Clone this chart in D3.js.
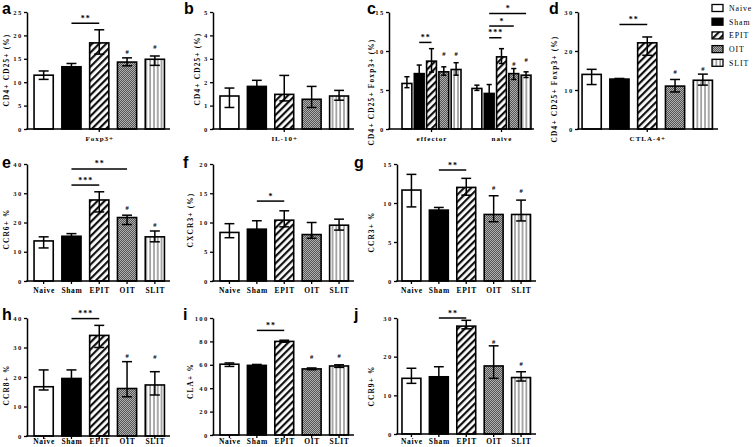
<!DOCTYPE html>
<html><head><meta charset="utf-8">
<script src="https://cdn.jsdelivr.net/npm/d3@7"></script>
<style>body{margin:0;background:#fff}svg{display:block}</style>
</head><body><svg id="c" width="754" height="447"></svg>
<script>
const groups = ["Naive","Sham","EPIT","OIT","SLIT"];

// a: CD4+CD25+ Foxp3+
const aMean = [11.5, 13.3, 18.4, 14.3, 14.9];
const aLo   = [10.6, 12.7, 16.0, 13.5, 13.6];
const aHi   = [12.4, 14.0, 21.2, 15.2, 15.6];
const aTicks = [0,5,10,15,20,25];
const aSig = [["", "Sham","EPIT",22.6,"**"]];
const aHash = [["", "OIT",16.5],["", "SLIT",17.5]];

// b: IL-10+
const bMean = [1.41, 1.82, 1.48, 1.27, 1.41];
const bLo   = [0.92, 1.56, 1.20, 0.92, 1.23];
const bHi   = [1.75, 2.08, 2.29, 1.82, 1.65];
const bTicks = [0,1,2,3,4,5];

// c: effector / naive
const cSeries = ["effector","naive"];
const cEffMean = [5.84, 7.1, 8.7, 7.33, 7.63];
const cEffLo   = [5.3, 6.0, 7.3, 6.9, 6.9];
const cEffHi   = [6.7, 8.2, 10.3, 7.97, 8.5];
const cNaiMean = [5.2, 4.56, 9.25, 7.1, 6.9];
const cNaiLo   = [4.95, 3.5, 8.4, 6.35, 6.6];
const cNaiHi   = [5.62, 5.7, 10.3, 7.75, 7.33];
const cTicks = [0,5,10,15];
const cSig = [["effector","Sham","EPIT",11.1,"**"],["naive","Sham","EPIT",11.7,"***"],["naive","Sham","OIT",13.2,"*"],["naive","Sham","SLIT",14.8,"*"]];
const cHash = [["effector","OIT",9.7],["effector","SLIT",9.7],["naive","OIT",8.4],["naive","SLIT",8.9]];

// d: CTLA-4+
const dMean = [14.0, 12.8, 22.1, 11.0, 12.5];
const dLo   = [11.4, 12.6, 18.9, 9.5, 11.25];
const dHi   = [15.3, 12.96, 23.6, 12.7, 14.07];
const dTicks = [0,10,20,30];
const dSig = [["", "Sham","EPIT",26.8,"**"]];
const dHash = [["", "OIT",14.7],["", "SLIT",15.5]];

// e: CCR6+
const eMean = [13.7, 15.3, 27.7, 21.7, 15.1];
const eLo   = [11.3, 14.5, 23.6, 19.3, 13.4];
const eHi   = [15.1, 16.2, 30.5, 22.5, 17.1];
const eTicks = [0,10,20,30,40];
const eSig = [["", "Sham","EPIT",32.8,"***"],["", "Sham","OIT",38.3,"**"]];
const eHash = [["", "OIT",25.0],["", "SLIT",19.1]];

// f: CXCR3+
const fMean = [8.3, 8.86, 10.4, 7.94, 9.54];
const fLo   = [7.4, 7.5, 9.26, 7.3, 8.7];
const fHi   = [9.8, 10.3, 12.0, 10.0, 10.57];
const fTicks = [0,5,10,15,20];
const fSig = [["", "Sham","EPIT",13.66,"*"]];
const fHash = [["", "OIT",7.7]];

// g: CCR3+
const gMean = [11.66, 9.09, 12.0, 8.53, 8.53];
const gLo   = [9.5, 8.8, 11.0, 7.6, 7.7];
const gHi   = [13.67, 9.43, 13.16, 10.93, 10.37];
const gTicks = [0,5,10,15];
const gSig = [["", "Sham","EPIT",14.23,"**"]];
const gHash = [["", "OIT",11.9],["", "SLIT",11.6]];

// h: CCR8+
const hMean = [16.7, 19.5, 34.1, 16.1, 17.3];
const hLo   = [15.6, 17.0, 30.0, 13.3, 13.9];
const hHi   = [22.4, 22.4, 37.5, 25.2, 21.8];
const hTicks = [0,10,20,30,40];
const hSig = [["", "Sham","EPIT",39.8,"***"]];
const hHash = [["", "OIT",27.2],["", "SLIT",26.9]];

// i: CLA+
const iMean = [60.5, 59.5, 80.0, 56.5, 59.0];
const iLo   = [58.6, 59.0, 79.3, 55.8, 57.8];
const iHi   = [61.6, 60.3, 81.0, 57.3, 60.0];
const iTicks = [0,20,40,60,80,100];
const iSig = [["", "Sham","EPIT",89.4,"**"]];
const iHash = [["", "OIT",67.1],["", "SLIT",67.7]];

// j: CCR9+
const jMean = [14.4, 14.8, 27.9, 17.6, 14.6];
const jLo   = [13.1, 13.1, 27.2, 14.4, 13.7];
const jHi   = [17.0, 17.4, 29.4, 22.8, 16.1];
const jTicks = [0,10,20,30];
const jSig = [["", "Sham","EPIT",30.0,"**"]];
const jHash = [["", "OIT",24.0],["", "SLIT",18.3]];

const legendLabels = ["Naive","Sham","EPIT","OIT","SLIT"];

function one(mean, lo, hi) { return [{name:"", mean, lo, hi}]; }

const panels = [
  {id:"a", yLabel:"CD4+ CD25+ (%)", series:one(aMean,aLo,aHi), seriesLabels:["Foxp3+"], ticks:aTicks, sig:aSig, hash:aHash},
  {id:"b", yLabel:"CD4+ CD25+ (%)", series:one(bMean,bLo,bHi), seriesLabels:["IL-10+"], ticks:bTicks, sig:[], hash:[]},
  {id:"c", yLabel:"CD4+ CD25+ Foxp3+ (%)", series:[{name:cSeries[0],mean:cEffMean,lo:cEffLo,hi:cEffHi},{name:cSeries[1],mean:cNaiMean,lo:cNaiLo,hi:cNaiHi}], seriesLabels:cSeries, ticks:cTicks, sig:cSig, hash:cHash},
  {id:"d", yLabel:"CD4+ CD25+ Foxp3+ (%)", series:one(dMean,dLo,dHi), seriesLabels:["CTLA-4+"], ticks:dTicks, sig:dSig, hash:dHash},
  {id:"e", yLabel:"CCR6+ %", series:one(eMean,eLo,eHi), catLabels:true, ticks:eTicks, sig:eSig, hash:eHash},
  {id:"f", yLabel:"CXCR3+ (%)", series:one(fMean,fLo,fHi), catLabels:true, ticks:fTicks, sig:fSig, hash:fHash},
  {id:"g", yLabel:"CCR3+ %", series:one(gMean,gLo,gHi), catLabels:true, ticks:gTicks, sig:gSig, hash:gHash},
  {id:"h", yLabel:"CCR8+ %", series:one(hMean,hLo,hHi), catLabels:true, ticks:hTicks, sig:hSig, hash:hHash},
  {id:"i", yLabel:"CLA+ %", series:one(iMean,iLo,iHi), catLabels:true, ticks:iTicks, sig:iSig, hash:iHash},
  {id:"j", yLabel:"CCR9+ %", series:one(jMean,jLo,jHi), catLabels:true, ticks:jTicks, sig:jSig, hash:jHash}
];

// ---- layout (pixels) ----
const L = {
  a:{top:12,bottom:129,ax:27,r0:28.5,r1:170,yl:[9,70],letter:[2,14],xlabY:141},
  b:{top:12,bottom:129,ax:213,r0:214.5,r1:354,yl:[200,69],letter:[184,14],xlabY:141},
  c:{top:12,bottom:129,ax:389,r0:389,r1:544,axEnd:534,yl:[374,92],letter:[367,14],xlabY:141,gIn:.157,gOut:.186,bIn:.2,bOut:0},
  d:{top:12,bottom:129,ax:578,r0:576.5,r1:718,yl:[557,89],letter:[549,14],xlabY:141},
  e:{top:164,bottom:281,ax:27,r0:28.5,r1:170,yl:[9,229],letter:[2,168],xlabY:293},
  f:{top:164,bottom:281,ax:213,r0:214.5,r1:354,yl:[193,220],letter:[183,168],xlabY:293},
  g:{top:164,bottom:281,ax:397,r0:396.5,r1:536,yl:[374,232],letter:[354,168],xlabY:293},
  h:{top:318,bottom:436,ax:27,r0:28.5,r1:170,yl:[9,385],letter:[2,320],xlabY:444},
  i:{top:318,bottom:435,ax:213,r0:214.5,r1:354,yl:[193,381],letter:[183,320],xlabY:444},
  j:{top:318,bottom:434,ax:397,r0:396.5,r1:536,yl:[374,386],letter:[354,320],xlabY:444}
};

const SERIF = "'Liberation Serif','Times New Roman',serif";
const SANS = "'Liberation Sans',Arial,sans-serif";

const svg = d3.select("#c");
svg.append("rect").attr("width",754).attr("height",447).attr("fill","#fff");
const defs = svg.append("defs");
// EPIT diagonal stripes
const pE = defs.append("pattern").attr("id","pEPIT").attr("patternUnits","userSpaceOnUse")
  .attr("width",5).attr("height",5).attr("patternTransform","rotate(45)");
pE.append("rect").attr("width",5).attr("height",5).attr("fill","#fff");
pE.append("rect").attr("width",2.2).attr("height",5).attr("fill","#111");
// OIT checker
const pO = defs.append("pattern").attr("id","pOIT").attr("patternUnits","userSpaceOnUse")
  .attr("width",2).attr("height",2);
pO.append("rect").attr("width",2).attr("height",2).attr("fill","#555");
pO.append("rect").attr("width",1).attr("height",1).attr("fill","#b0b0b0");
pO.append("rect").attr("x",1).attr("y",1).attr("width",1).attr("height",1).attr("fill","#b0b0b0");
// SLIT vertical lines
const pS = defs.append("pattern").attr("id","pSLIT").attr("patternUnits","userSpaceOnUse")
  .attr("width",3.8).attr("height",4);
pS.append("rect").attr("width",3.8).attr("height",4).attr("fill","#fff");
pS.append("rect").attr("x",1.4).attr("width",1.1).attr("height",4).attr("fill","#666");

const fillOf = {Naive:"#fff", Sham:"#000", EPIT:"url(#pEPIT)", OIT:"url(#pOIT)", SLIT:"url(#pSLIT)"};

function drawPanel(p){
  const l = L[p.id];
  const g = svg.append("g");
  const yMax = p.ticks[p.ticks.length-1];
  const y = d3.scaleLinear().domain([0,yMax]).range([l.bottom,l.top]);
  const outer = d3.scaleBand().domain(p.series.map(s=>s.name)).range([l.r0,l.r1])
    .paddingInner(l.gIn ?? 0).paddingOuter(l.gOut ?? 0);
  const inner = d3.scaleBand().domain(groups).range([0,outer.bandwidth()])
    .paddingInner(l.bIn ?? 0.31).paddingOuter(l.bOut ?? 0.2);
  const xc = (s,c) => outer(s) + inner(c) + inner.bandwidth()/2;
  const bw = inner.bandwidth();

  p.series.forEach(s=>{
    groups.forEach((c,k)=>{
      const x = outer(s.name)+inner(c);
      g.append("rect").attr("x",x).attr("y",y(s.mean[k])).attr("width",bw)
        .attr("height",y(0)-y(s.mean[k])).attr("fill",fillOf[c])
        .attr("stroke","#000").attr("stroke-width",1.6);
      const cx = x + bw/2, cap = bw*0.26;
      g.append("line").attr("x1",cx).attr("x2",cx).attr("y1",y(s.lo[k])).attr("y2",y(s.hi[k]))
        .attr("stroke","#000").attr("stroke-width",1.5);
      [s.lo[k], s.hi[k]].forEach(v=>{
        g.append("line").attr("x1",cx-cap).attr("x2",cx+cap).attr("y1",y(v)).attr("y2",y(v))
          .attr("stroke","#000").attr("stroke-width",1.5);
      });
    });
  });

  // y axis
  const ya = g.append("g").attr("transform",`translate(${l.ax},0)`)
    .call(d3.axisLeft(y).tickValues(p.ticks).tickSize(3).tickSizeOuter(0).tickPadding(1.5).tickFormat(d3.format("d")));
  ya.select(".domain").attr("stroke-width",1.5);
  ya.selectAll(".tick line").attr("stroke-width",1.3);
  ya.selectAll("text").attr("font-family",SERIF).attr("font-weight","bold").attr("font-size",6.6)
    .attr("fill","#111").style("letter-spacing","1.3px");

  // x axis line
  const axEnd = l.axEnd ?? l.r1;
  g.append("line").attr("x1",l.ax-0.75).attr("x2",axEnd).attr("y1",l.bottom).attr("y2",l.bottom)
    .attr("stroke","#000").attr("stroke-width",1.5);
  if (p.catLabels){
    groups.forEach(c=>{
      const cx = xc("",c);
      g.append("line").attr("x1",cx).attr("x2",cx).attr("y1",l.bottom).attr("y2",l.bottom+3)
        .attr("stroke","#000").attr("stroke-width",1.3);
      g.append("text").attr("x",cx+0.5).attr("y",l.xlabY).attr("text-anchor","middle")
        .attr("font-family",SERIF).attr("font-weight","bold").attr("font-size",7.5)
        .style("letter-spacing","0.7px").text(c);
    });
  } else {
    p.series.forEach((s,i)=>{
      const cx = outer(s.name)+outer.bandwidth()/2;
      g.append("line").attr("x1",cx).attr("x2",cx).attr("y1",l.bottom).attr("y2",l.bottom+3)
        .attr("stroke","#000").attr("stroke-width",1.3);
      g.append("text").attr("x",cx+0.5).attr("y",l.xlabY).attr("text-anchor","middle")
        .attr("font-family",SERIF).attr("font-weight","bold").attr("font-size",7)
        .style("letter-spacing","1px").text(p.seriesLabels[i]);
    });
  }

  // y label
  g.append("text").attr("transform",`translate(${l.yl[0]},${l.yl[1]}) rotate(-90)`)
    .attr("text-anchor","middle").attr("font-family",SERIF).attr("font-weight","bold")
    .attr("font-size",7.3).style("letter-spacing","1.2px").text(p.yLabel);

  // panel letter
  g.append("text").attr("x",l.letter[0]).attr("y",l.letter[1]).attr("font-family",SANS)
    .attr("font-weight","bold").attr("font-size",16).text(p.id);

  // significance
  p.sig.forEach(([sn,a,b,v,t])=>{
    const x1 = xc(sn,a), x2 = xc(sn,b);
    g.append("line").attr("x1",x1).attr("x2",x2).attr("y1",y(v)).attr("y2",y(v))
      .attr("stroke","#000").attr("stroke-width",1.5);
    g.append("text").attr("x",(x1+x2)/2+0.5).attr("y",y(v)-2.5).attr("text-anchor","middle")
      .attr("font-family",SERIF).attr("font-weight","bold").attr("font-size",8)
      .style("letter-spacing","1px").text(t);
  });
  p.hash.forEach(([sn,c,v])=>{
    g.append("text").attr("x",xc(sn,c)).attr("y",y(v)+2.3).attr("text-anchor","middle")
      .attr("font-family",SERIF).attr("font-weight","bold").attr("font-size",6.5).text("#");
  });
}
panels.forEach(drawPanel);

// legend
const lg = svg.append("g");
legendLabels.forEach((c,k)=>{
  const cy = 8 + k*13.7;
  lg.append("rect").attr("x",712).attr("y",cy-3.5).attr("width",11).attr("height",7)
    .attr("fill",fillOf[c]).attr("stroke","#000").attr("stroke-width",1.3);
  lg.append("text").attr("x",729).attr("y",cy+2.8).attr("font-family",SERIF)
    .attr("font-size",7.8).style("letter-spacing","0.9px").text(c);
});
</script></body></html>
